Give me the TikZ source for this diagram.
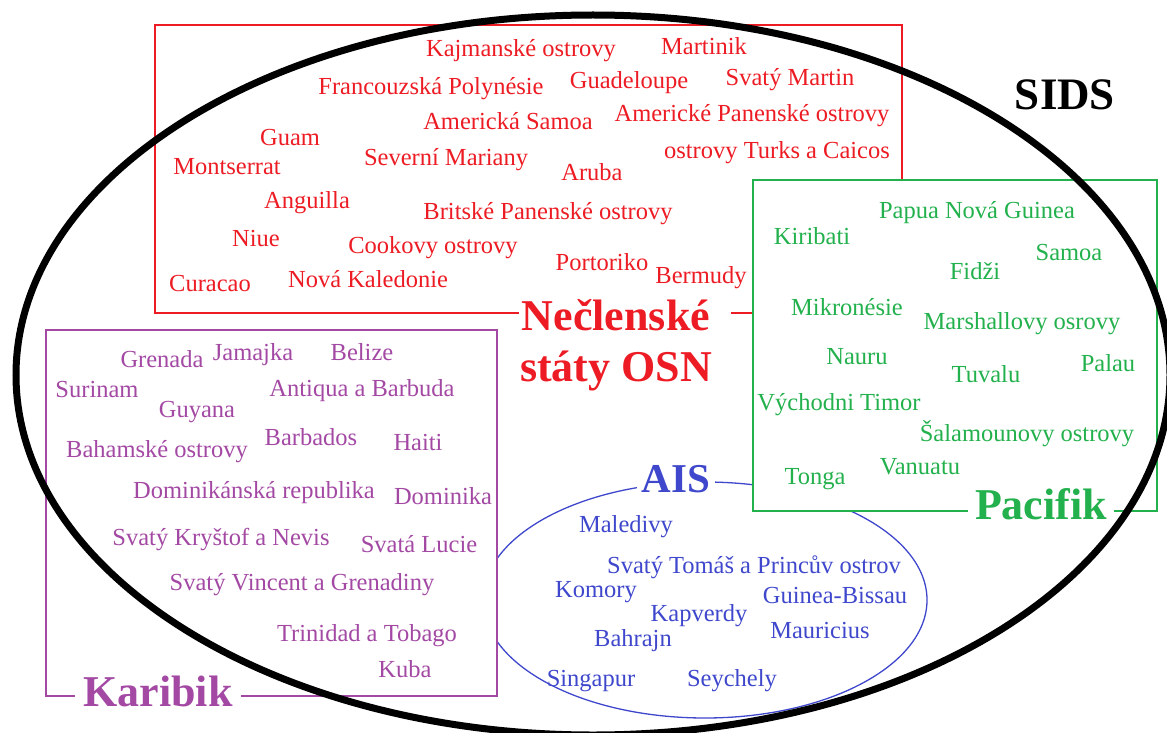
\documentclass[tikz,border=0pt]{standalone}
\usepackage{fontspec}
\setmainfont{Liberation Serif}
\definecolor{cred}{HTML}{ED1C24}
\definecolor{cgreen}{HTML}{22B14C}
\definecolor{cpurple}{HTML}{A349A4}
\definecolor{cblue}{HTML}{3F48CC}
\begin{document}
\begin{tikzpicture}[x=1pt,y=-1pt,
  lbl/.style={inner sep=0pt, text height=17pt, text depth=3pt, font=\fontsize{24.5}{28}\selectfont},
  rd/.style={lbl, text=cred},
  gr/.style={lbl, text=cgreen},
  pu/.style={lbl, text=cpurple},
  bl/.style={lbl, text=cblue},
  big/.style={inner ysep=0pt, inner xsep=6pt, text height=31pt, text depth=2pt, font=\fontsize{44}{51}\selectfont\bfseries},
  boxline/.style={line width=1.3pt}]
\useasboundingbox (0,0) rectangle (1167,733);
\clip (0,0) rectangle (1167,733);
\fill[white] (0,0) rectangle (1167,733);
% AIS ellipse
\draw[cblue, boxline] (705,600) ellipse [x radius=222pt, y radius=118pt];
% red box
\draw[cred, boxline] (902,180) -- (902,25) -- (155,25) -- (155,313) -- (519,313);
\draw[cred, boxline] (731,313) -- (753,313);
% Karibik box
\draw[cpurple, boxline, fill=white] (46,330) rectangle (497,696);
% Pacifik box
\draw[cgreen, boxline, fill=white] (753,180) rectangle (1157,511);
% group labels
\node[big, text=cred] (necl) at (616,316) {Nečlenské};
\node[big, text=cred] (osn) at (616,367) {státy OSN};
\node[big, text=black, font=\fontsize{45}{51}\selectfont\bfseries] (sids) at (1065,95) {SIDS};
\node[big, text=cblue, fill=white, inner xsep=5pt, font=\fontsize{41}{51}\selectfont\bfseries] (ais) at (676,478) {AIS};
\node[big, text=cgreen, fill=white, inner xsep=7pt] (pac) at (1041,505) {Pacifik};
\node[big, text=cpurple, fill=white, inner xsep=8pt] (kar) at (158,692) {Karibik};
% red
\node[rd] (r1) at (521,50) {Kajmanské ostrovy};
\node[rd] (r2) at (704,48) {Martinik};
\node[rd] (r3) at (431,88) {Francouzská Polynésie};
\node[rd] (r4) at (629,82) {Guadeloupe};
\node[rd] (r5) at (790,79) {Svatý Martin};
\node[rd] (r6) at (508,123) {Americká Samoa};
\node[rd] (r7) at (752,115) {Americké Panenské ostrovy};
\node[rd] (r8) at (290,139) {Guam};
\node[rd] (r9) at (227,168) {Montserrat};
\node[rd] (r10) at (446,158) {Severní Mariany};
\node[rd] (r11) at (592,173) {Aruba};
\node[rd] (r12) at (777,151) {ostrovy Turks a Caicos};
\node[rd] (r13) at (307,201) {Anguilla};
\node[rd] (r14) at (548,212) {Britské Panenské ostrovy};
\node[rd] (r15) at (256,239) {Niue};
\node[rd] (r16) at (433,246) {Cookovy ostrovy};
\node[rd] (r17) at (602,263) {Portoriko};
\node[rd] (r18) at (701,276) {Bermudy};
\node[rd] (r19) at (210,284) {Curacao};
\node[rd] (r20) at (368,280) {Nová Kaledonie};
% green
\node[gr] (g1) at (977,211) {Papua Nová Guinea};
\node[gr] (g2) at (812,237) {Kiribati};
\node[gr] (g3) at (1069,253) {Samoa};
\node[gr] (g4) at (975,272) {Fidži};
\node[gr] (g5) at (847,308) {Mikronésie};
\node[gr] (g6) at (1022,322) {Marshallovy osrovy};
\node[gr] (g7) at (857,357) {Nauru};
\node[gr] (g8) at (986,375) {Tuvalu};
\node[gr] (g9) at (1108,364) {Palau};
\node[gr] (g10) at (839,403) {Východni Timor};
\node[gr] (g11) at (1027,434) {Šalamounovy ostrovy};
\node[gr] (g12) at (815,477) {Tonga};
\node[gr] (g13) at (920,467) {Vanuatu};
% purple
\node[pu] (p1) at (162,360) {Grenada};
\node[pu] (p2) at (253,353) {Jamajka};
\node[pu] (p3) at (362,353) {Belize};
\node[pu] (p4) at (97,390) {Surinam};
\node[pu] (p5) at (362,389) {Antiqua a Barbuda};
\node[pu] (p6) at (197,410) {Guyana};
\node[pu] (p7) at (157,450) {Bahamské ostrovy};
\node[pu] (p8) at (311,438) {Barbados};
\node[pu] (p9) at (418,443) {Haiti};
\node[pu] (p10) at (254,491) {Dominikánská republika};
\node[pu] (p11) at (443,497) {Dominika};
\node[pu] (p12) at (221,538) {Svatý Kryštof a Nevis};
\node[pu] (p13) at (419,545) {Svatá Lucie};
\node[pu] (p14) at (302,583) {Svatý Vincent a Grenadiny};
\node[pu] (p15) at (367,634) {Trinidad a Tobago};
\node[pu] (p16) at (405,670) {Kuba};
% blue
\node[bl] (b1) at (626,525) {Maledivy};
\node[bl] (b2) at (754,566) {Svatý Tomáš a Princův ostrov};
\node[bl] (b3) at (596,590) {Komory};
\node[bl] (b4) at (835,596) {Guinea-Bissau};
\node[bl] (b5) at (699,614) {Kapverdy};
\node[bl] (b6) at (633,639) {Bahrajn};
\node[bl] (b7) at (820,631) {Mauricius};
\node[bl] (b8) at (591,679) {Singapur};
\node[bl] (b9) at (732,679) {Seychely};
% SIDS ellipse
\draw[black, line width=7pt] (593,375) ellipse [x radius=577pt, y radius=360pt];
\end{tikzpicture}
\end{document}
